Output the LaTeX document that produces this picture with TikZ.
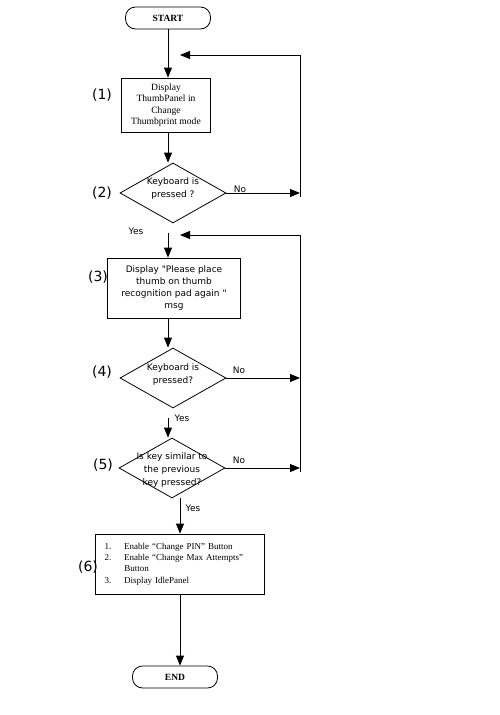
\documentclass[tikz,border=0pt]{standalone}
\usepackage{fontspec}
\setmainfont{Liberation Serif}
\setsansfont{DejaVu Sans}[Ligatures=TeXOff]
\usetikzlibrary{shapes.geometric,arrows.meta}

\begin{document}
\begin{tikzpicture}[x=1pt,y=-1pt,
      line width=0.8pt,
      terminal/.style={
        rectangle,
        draw, rounded corners=10pt,
        minimum width=85pt,
        minimum height=22pt,
        font=\fontsize{9.5}{11}\selectfont\bfseries
      },
      process/.style={
        rectangle,
        draw,
        align=center,
        inner sep=0pt
      },
      decision/.style={
        diamond,
        draw,
        minimum width=106pt,
        minimum height=60pt,
        inner sep=0pt
      },
      qtext/.style={align=center, inner sep=0pt, font=\sffamily\fontsize{9}{13}\selectfont},
      steplabel/.style={font=\sffamily\fontsize{14}{14}\selectfont},
      answer/.style={inner sep=0pt, font=\sffamily\fontsize{9}{10}\selectfont},
      arrow/.style={
        -{Triangle[length=10pt,width=8pt]}
      }
    ]
      \path[fill=white, use as bounding box] (0,0) rectangle (499,715);
      \coordinate (colA) at (168,0);
      \coordinate (colB) at (180,0);
      \coordinate (loopAtop) at (300,55);
      \coordinate (loopAend) at (180,55);
      \coordinate (loopAbot) at (300,197);
      \coordinate (loopBtop) at (300,235);
      \coordinate (loopBend) at (180,235);
      \coordinate (loopBbot) at (300,472);

      \node[terminal] (start) at (168,18) {START};
      \node[process, minimum width=89pt, minimum height=54pt, font=\fontsize{9.6}{11.5}\selectfont] (display) at (166,105) {Display\\ThumbPanel in\\Change\\Thumbprint mode};
      \node[decision] (keyA) at (173,193) {};
      \node[qtext] (keyAtext) at ([yshift=4pt]keyA) {Keyboard is\\pressed ?};
      \node[process, minimum width=133pt, minimum height=60pt, font=\sffamily\fontsize{9}{12.2}\selectfont] (placemsg) at (174,288) {Display "Please place\\thumb on thumb\\recognition pad again "\\msg};
      \node[decision] (keyB) at (173,378) {};
      \node[qtext] (keyBtext) at ([yshift=3pt]keyB) {Keyboard is\\pressed?};
      \node[decision] (similar) at (172,468) {};
      \node[qtext] (similartext) at ([yshift=-2pt]similar) {Is key similar to\\the previous\\key pressed?};
      \node[process, minimum height=60pt, inner xsep=9pt, text width=151pt, align=left, font=\fontsize{9}{11.3}\selectfont] (enable) at (180,564) {%
        \begin{tabular}{@{}l@{\hspace{13pt}}l@{}}
          1. & Enable “Change PIN” Button\\
          2. & Enable “Change Max Attempts”\\
             & Button\\
          3. & Display IdlePanel
        \end{tabular}};
      \node[terminal] (finish) at (175,677) {END};

      % step numbers
      \node[steplabel] (lab1) at (102,95) {(1)};
      \node[steplabel] (lab2) at (102,193) {(2)};
      \node[steplabel] (lab3) at (98,277) {(3)};
      \node[steplabel] (lab4) at (102,372) {(4)};
      \node[steplabel] (lab5) at (103,465) {(5)};
      \node[steplabel] (lab6) at (88,567) {(6)};

      % answers
      \node[answer] (noA) at (240,189) {No};
      \node[answer] (yesA) at (136,231) {Yes};
      \node[answer] (noB) at (239,370) {No};
      \node[answer] (yesB) at (182,418) {Yes};
      \node[answer] (noC) at (239,460) {No};
      \node[answer] (yesC) at (193,508) {Yes};

      \draw[arrow] (start.south) -- (start.south |- display.north);
      \draw[arrow] (display.south -| colA) -- (keyA.north -| colA);
      \draw[arrow, shorten <=10pt] (keyA.south -| colA) -- (placemsg.north -| colA);
      \draw[arrow] (placemsg.south -| colA) -- (keyB.north -| colA);
      \draw[arrow, shorten <=10pt] (keyB.south -| colA) -- (similar.north -| colA);
      \draw[arrow] (similar.south -| colB) -- (enable.north -| colB);
      \draw[arrow] (enable.south -| colB) -- (finish.north -| colB);

      % loops back
      \draw[arrow] (keyA.east) -- (keyA.east -| loopAbot);
      \draw (loopAbot) -- (loopAtop);
      \draw[arrow] (loopAtop) -- (loopAend);
      \draw[arrow] (keyB.east) -- (keyB.east -| loopBbot);
      \draw[arrow] (similar.east) -- (similar.east -| loopBbot);
      \draw (loopBbot) -- (loopBtop);
      \draw[arrow] (loopBtop) -- (loopBend);
    \end{tikzpicture}
\end{document}
